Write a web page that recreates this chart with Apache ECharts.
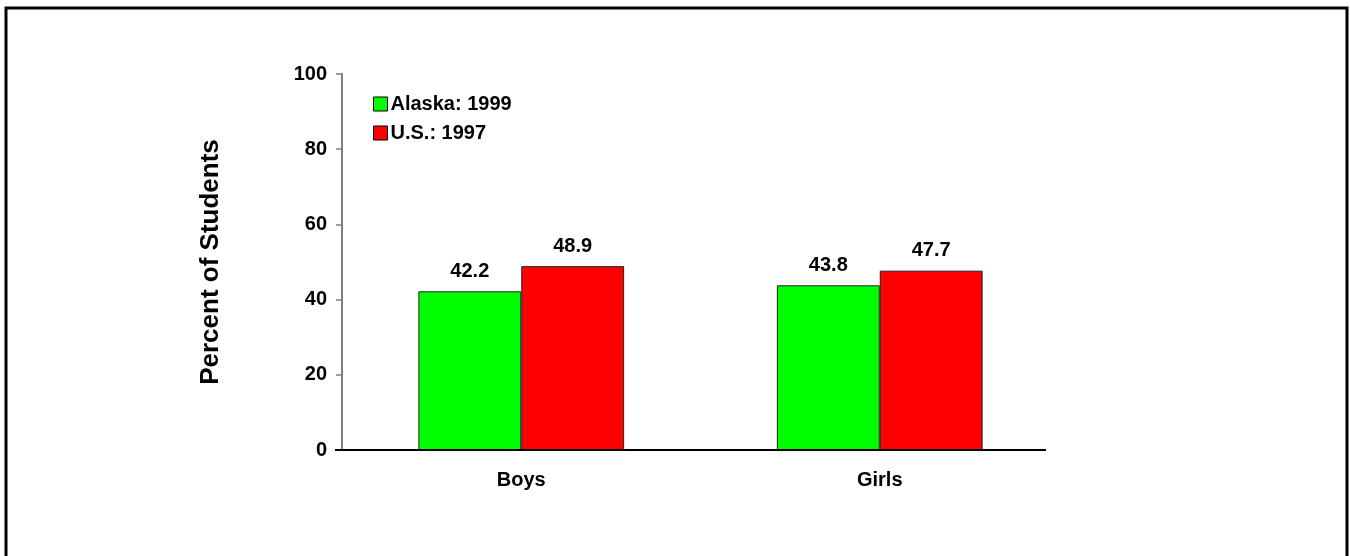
<!DOCTYPE html>
<html>
<head>
<meta charset="utf-8">
<script src="https://cdn.jsdelivr.net/npm/echarts@6/dist/echarts.min.js"></script>
<style>
html,body{margin:0;padding:0;background:#fff;}
#chart{width:1350px;height:556px;}
</style>
</head>
<body>
<div id="chart"></div>
<script>
var categories = ['Boys', 'Girls'];
var alaska1999 = [42.2, 43.8];
var us1997 = [48.9, 47.7];
var seriesNames = ['Alaska: 1999', 'U.S.: 1997'];

var chart = echarts.init(document.getElementById('chart'), null, {renderer: 'canvas'});
var font = 'Arial, "Liberation Sans", sans-serif';
var labelStyle = {show: true, position: 'top', distance: 10, color: '#000', fontWeight: 'bold', fontSize: 20, fontFamily: font, formatter: function(p){return p.value.toFixed(1);}};
chart.setOption({
  animation: false,
  backgroundColor: '#fff',
  graphic: [{
    type: 'rect', shape: {x: 6, y: 8, width: 1341, height: 570},
    style: {fill: 'none', stroke: '#000', lineWidth: 3}, silent: true, z: 100
  }, {
    type: 'line', shape: {x1: 335, y1: 450, x2: 1046, y2: 450},
    style: {stroke: '#000', lineWidth: 2}, silent: true, z: 50
  }],
  legend: {
    orient: 'vertical', left: 368, top: 89, itemWidth: 14, itemHeight: 14, itemGap: 9,
    icon: 'rect',
    itemStyle: {borderColor: '#000', borderWidth: 1},
    textStyle: {fontWeight: 'bold', fontSize: 20, fontFamily: font, color: '#000', padding: [0,0,0,-2]},
    data: seriesNames
  },
  grid: {left: 342, right: 1350 - 1059, top: 74, bottom: 106, containLabel: false},
  xAxis: {
    type: 'category', data: categories,
    axisLine: {show: false},
    axisTick: {show: false},
    axisLabel: {margin: 20, fontWeight: 'bold', fontSize: 20, fontFamily: font, color: '#000'}
  },
  yAxis: {
    type: 'value', min: 0, max: 100, interval: 20,
    name: 'Percent of Students', nameLocation: 'middle', nameGap: 118, nameRotate: 90,
    nameTextStyle: {fontWeight: 'bold', fontSize: 26, fontFamily: font, color: '#000'},
    axisLine: {show: true, lineStyle: {color: '#808080', width: 2}},
    axisTick: {show: true, length: 6, lineStyle: {color: '#808080', width: 1.5}},
    splitLine: {show: false},
    axisLabel: {margin: 15, fontWeight: 'bold', fontSize: 20, fontFamily: font, color: '#000'}
  },
  series: [
    {name: seriesNames[0], type: 'bar', data: alaska1999, barGap: '0%', barCategoryGap: '42.6%',
     itemStyle: {color: '#00ff00', borderColor: '#222', borderWidth: 1}, label: labelStyle},
    {name: seriesNames[1], type: 'bar', data: us1997,
     itemStyle: {color: '#ff0000', borderColor: '#222', borderWidth: 1}, label: labelStyle}
  ]
});
</script>
</body>
</html>
